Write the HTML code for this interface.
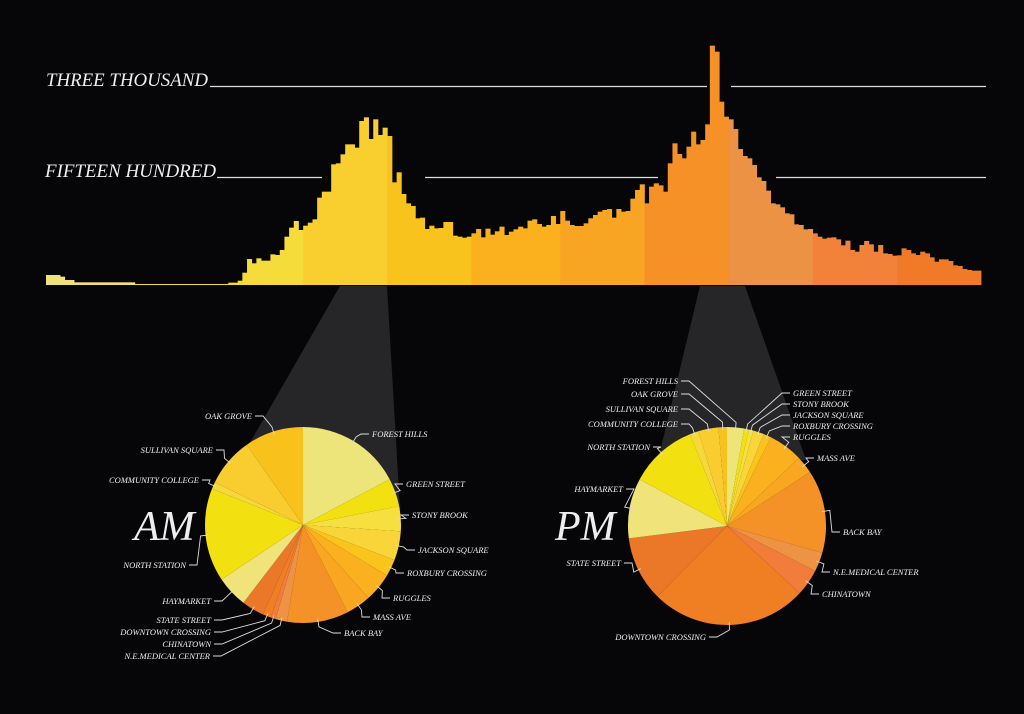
<!DOCTYPE html>
<html><head><meta charset="utf-8"><style>
html,body{margin:0;padding:0;background:#060608;}
svg{display:block;}
text{font-family:"Liberation Serif",serif;font-style:italic;fill:#eeeeee;}
</style></head><body>
<svg id="chart" width="1024" height="714" viewBox="0 0 1024 714" xmlns="http://www.w3.org/2000/svg">
<rect width="1024" height="714" fill="#060608"/>
<g id="wedges">
<polygon points="340,286 387,286 400,510 240,460" fill="#262628"/>
<polygon points="700,286 745,286 806,460 658,460" fill="#262628"/>
</g>
<g id="ref">
<text x="46" y="86" font-size="19" textLength="162" lengthAdjust="spacingAndGlyphs">THREE THOUSAND</text>
<line x1="210" y1="86.5" x2="707" y2="86.5" stroke="#dddddd" stroke-width="1.2"/>
<line x1="731" y1="86.5" x2="986" y2="86.5" stroke="#dddddd" stroke-width="1.2"/>
<text x="45" y="177" font-size="19" textLength="171" lengthAdjust="spacingAndGlyphs">FIFTEEN HUNDRED</text>
<line x1="217" y1="177.5" x2="322" y2="177.5" stroke="#dddddd" stroke-width="1.2"/>
<line x1="425" y1="177.5" x2="658" y2="177.5" stroke="#dddddd" stroke-width="1.2"/>
<line x1="776" y1="177.5" x2="986" y2="177.5" stroke="#dddddd" stroke-width="1.2"/>
</g>
<g id="bars"></g>
<g id="pies"></g>
<text x="134" y="540" font-size="42">AM</text>
<text x="555" y="540" font-size="42">PM</text>
</svg>
<script>
const riders = [150,150,150,125,75,75,
40,40,40,40,40,40,40,40,40,40,40,40,40,
15,15,15,15,15,15,15,15,15,15,15,15,15,15,15,15,15,15,15,15,
35,35,65,185,390,325,400,365,365,460,450,525,725,860,960,825,890,935,985,1310,1400,1400,1810,1825,1960,2110,2110,2060,2460,2515,2190,2485,2250,2360,2235,1540,1690,1365,1225,1185,1000,1010,840,890,850,855,945,945,740,725,710,725,775,840,715,845,755,805,
875,750,800,835,875,850,965,985,915,875,900,1035,915,1110,965,900,885,885,925,1000,1050,1100,1125,1140,1010,1140,1100,1110,1295,1425,1510,1225,1475,1525,1495,1400,1825,2125,1965,1900,2075,2300,2110,2175,2410,3590,3500,2750,2525,2485,2340,2040,1935,1900,1800,1615,1560,1415,1225,1210,1165,1075,1060,910,900,835,840,775,725,695,710,715,685,595,665,525,500,600,660,610,500,600,475,465,440,445,550,525,475,450,500,475,415,350,385,385,360,295,285,240,225,215,215];
const segEdges = [46,135,242,303,387,471,560,644,728,812,897,981];
const segColors = ["#f0e27a","#f2e01c","#f5dc3a","#f9cf30","#f8c31c","#fbb01e","#f8a524","#f59127","#ec9244","#f2813a","#f07a28"];

const amNames = ["FOREST HILLS","GREEN STREET","STONY BROOK","JACKSON SQUARE","ROXBURY CROSSING","RUGGLES","MASS AVE","BACK BAY","N.E.MEDICAL CENTER","CHINATOWN","DOWNTOWN CROSSING","STATE STREET","HAYMARKET","NORTH STATION","COMMUNITY COLLEGE","SULLIVAN SQUARE","OAK GROVE"];
const amShares = [63,17,15,17.5,10.2,17.3,15,37,7,3,5,13.5,19,56.2,4.3,29.4,35.6];
const pmShares = [10,2.8,2.7,6.2,4.6,20.3,10.4,48.7,11.3,15.8,91.8,38.2,35.2,40,5.2,11.8,5];
const sliceColors = ["#ede47a","#f2e010","#f5e040","#f9d53a","#f9c41c","#fbb01f","#f9a620","#f59227","#ee9244","#f27c3a","#f07e22","#ea7828","#efe37a","#f2e010","#f7d83a","#f9cd30","#f8c11c"];

const NS="http://www.w3.org/2000/svg";
function mk(tag, attrs, parent){const e=document.createElementNS(NS,tag);for(const k in attrs)e.setAttribute(k,attrs[k]);parent.appendChild(e);return e;}

const base=285, x0=46, x1=981;
const yScale = v => base - v/15;
const bw = (x1-x0)/riders.length;
const bars=document.getElementById('bars');
function colorAt(x){for(let i=0;i<segColors.length;i++){if(x<segEdges[i+1])return segColors[i];}return segColors[segColors.length-1];}
riders.forEach((v,i)=>{
  const x=x0+i*bw;
  const r=mk('rect',{x:x.toFixed(2),y:yScale(v).toFixed(2),width:(bw+0.4).toFixed(2),height:(base-yScale(v)).toFixed(2),fill:colorAt(x+bw/2)},bars);
  
  
});

const amLabels = [[372,437,0],[406,487,0],[412,518,0],[418,553,0],[407,576,0],[393,601,0],[373,620,0],[344,636,0],[210,659,1],[211,647,1],[211,635,1],[211,623,1],[211,604,1],[186,568,1],[199,483,1],[213,453,1],[252,419,1]];
const pmLabels = [[793,396,0],[793,407,0],[793,418,0],[793,429,0],[793,440,0],[817,461,0],[843,535,0],[833,575,0],[822,597,0],[706,640,1],[621,566,1],[623,492,1],[650,450,1],[678,427,1],[678,412,1],[678,397,1],[678,384,1]];
const pmLabelIdx = [16,0,1,2,3,4,5,6,7,8,9,10,11,12,13,14,15];
const pies=document.getElementById('pies');
function drawPie(cx,cy,r,shares,labels,labIdx,prefix){
  const total=shares.reduce((a,b)=>a+b,0);
  let a=0;
  shares.forEach((s,i)=>{
    const a0=a/total*2*Math.PI, a1=(a+s)/total*2*Math.PI; a+=s;
    const p=t=>[cx+r*Math.sin(t),cy-r*Math.cos(t)];
    const [sx,sy]=p(a0),[ex,ey]=p(a1);
    const large=(a1-a0)>Math.PI?1:0;
    const path=mk('path',{d:`M${cx},${cy}L${sx.toFixed(2)},${sy.toFixed(2)}A${r},${r} 0 ${large} 1 ${ex.toFixed(2)},${ey.toFixed(2)}Z`,fill:sliceColors[i]},pies);
    
    
  });
  a=0;
  shares.forEach((s,i)=>{
    const mid=(a+s/2)/total*2*Math.PI; a+=s;
    const L=labels[labIdx?labIdx[i]:i];
    const px=cx+(r-3)*Math.sin(mid), py=cy-(r-3)*Math.cos(mid);
    const qx=cx+(r+5)*Math.sin(mid), qy=cy-(r+5)*Math.cos(mid);
    const lx = L[2]? L[0]+3 : L[0]-3, ly=L[1]-3;
    const hx = L[2]? lx+8 : lx-8;
    const pl=mk('polyline',{points:`${lx},${ly} ${hx},${ly} ${qx.toFixed(1)},${qy.toFixed(1)} ${px.toFixed(1)},${py.toFixed(1)}`,fill:'none',stroke:'#dddddd','stroke-width':'0.9'},pies);
    
    
    const t=mk('text',{x:L[0],y:L[1],'font-size':'8.5','text-anchor':L[2]?'end':'start'},pies);
    t.textContent=amNames[i];
    
    
  });
}
drawPie(303,525,98,amShares,amLabels,null,'am');
drawPie(727,526,99,pmShares,pmLabels,pmLabelIdx,'pm');
</script>
</body></html>
